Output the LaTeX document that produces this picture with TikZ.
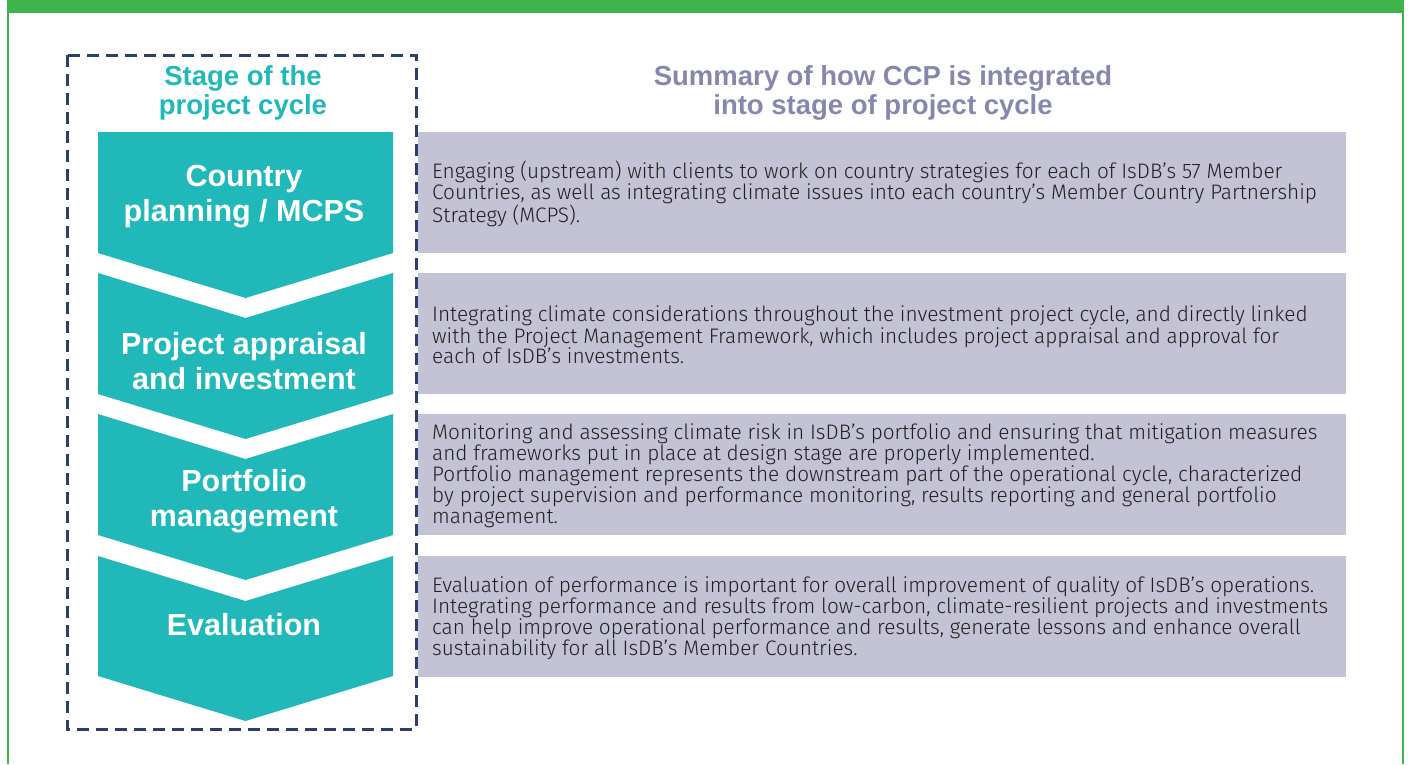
\documentclass[tikz,border=0pt]{standalone}
\usepackage{fontspec}
\setmainfont{Liberation Sans}
\newfontfamily\lightfont[FakeStretch=0.99]{Fira Sans Light}
\definecolor{framegreen}{HTML}{3DB54A}
\definecolor{cycleteal}{HTML}{20B8B8}
\definecolor{summarygray}{HTML}{C4C3D6}
\definecolor{dashnavy}{HTML}{2B3F6E}
\definecolor{headgray}{HTML}{8787AE}
\definecolor{bodytext}{HTML}{1F1F1F}
\tikzset{
  chevron/.style={fill=cycleteal},
  stagelabel/.style={text=white, font=\bfseries\fontsize{30.5}{35}\selectfont, align=center},
  heading/.style={font=\bfseries\fontsize{27.5}{29}\selectfont, align=center},
  summarybox/.style={fill=summarygray, minimum width=928pt, minimum height=121pt, inner sep=0pt, anchor=north west},
  summarytext/.style={text=bodytext, font=\lightfont\fontsize{21}{21}\selectfont, align=left, anchor=west, inner sep=0pt}
}
\begin{document}
\begin{tikzpicture}[x=1pt,y=-1pt]
	\useasboundingbox (0,0) rectangle (1408,764);
	% frame
	\fill[framegreen] (7,0) rectangle (1404,13);
	\draw[framegreen, line width=2.5pt] (8,13) -- (8,764);
	\draw[framegreen, line width=2.5pt] (1403,13) -- (1403,764);
	\draw[dashnavy, line width=3pt, dash pattern=on 12pt off 7pt] (67,55) rectangle (416,729);

	\node[heading, text=cycleteal] (stagehead) at (243,93) {Stage of the\\project cycle};
	\node[heading, text=headgray] (summaryhead) at (883,93) {Summary of how CCP is integrated\\into stage of project cycle};

	% chevrons
	\fill[chevron] (98,132) -- (393,132) -- (393,253) -- (245.5,298) -- (98,253) -- cycle;
	\fill[chevron] (98,273) -- (245.5,318) -- (393,273) -- (393,394) -- (245.5,439) -- (98,394) -- cycle;
	\fill[chevron] (98,414) -- (245.5,459) -- (393,414) -- (393,535) -- (245.5,580) -- (98,535) -- cycle;
	\fill[chevron] (98,556) -- (245.5,601) -- (393,556) -- (393,676) -- (245.5,721) -- (98,676) -- cycle;
	\node[stagelabel] (country) at (244,197) {Country\\planning / MCPS};
	\node[stagelabel] (appraisal) at (244,361) {Project appraisal\\and investment};
	\node[stagelabel] (portfolio) at (244,501) {Portfolio\\management};
	\node[stagelabel] (evaluation) at (244,625) {Evaluation};

	% summaries
	\node[summarybox] (countrybox) at (418,132) {};
	\node[summarybox] (appraisalbox) at (418,273) {};
	\node[summarybox] (portfoliobox) at (418,414) {};
	\node[summarybox] (evaluationbox) at (418,556) {};
	\node[summarytext] (countrytext) at ([xshift=14pt,yshift=-1.5pt]countrybox.west) {Engaging (upstream) with clients to work on country strategies for each of IsDB’s 57 Member\\Countries, as well as integrating climate issues into each country’s Member Country Partnership\\Strategy (MCPS).};
	\node[summarytext] (appraisaltext) at ([xshift=14pt,yshift=-1.5pt]appraisalbox.west) {Integrating climate considerations throughout the investment project cycle, and directly linked\\with the Project Management Framework, which includes project appraisal and approval for\\each of IsDB’s investments.};
	\node[summarytext] (portfoliotext) at ([xshift=14pt,yshift=-1.5pt]portfoliobox.west) {Monitoring and assessing climate risk in IsDB’s portfolio and ensuring that mitigation measures\\and frameworks put in place at design stage are properly implemented.\\Portfolio management represents the downstream part of the operational cycle, characterized\\by project supervision and performance monitoring, results reporting and general portfolio\\management.};
	\node[summarytext] (evaluationtext) at ([xshift=14pt,yshift=-1.5pt]evaluationbox.west) {Evaluation of performance is important for overall improvement of quality of IsDB’s operations.\\Integrating performance and results from low-carbon, climate-resilient projects and investments\\can help improve operational performance and results, generate lessons and enhance overall\\sustainability for all IsDB’s Member Countries.};
\end{tikzpicture}
\end{document}
